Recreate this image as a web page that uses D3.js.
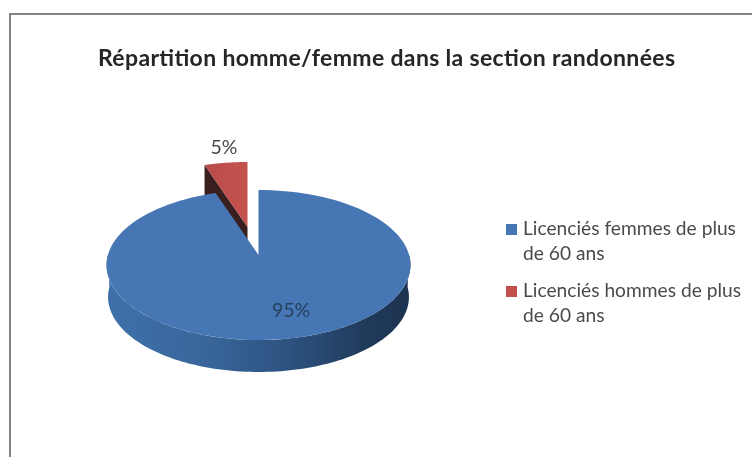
<!DOCTYPE html>
<html>
<head>
<meta charset="utf-8">
<script src="https://cdn.jsdelivr.net/npm/d3@7"></script>
<style>
  html, body { margin: 0; padding: 0; background: #fff; }
  svg { display: block; filter: blur(0.6px); }
  text { font-family: Lato, "Open Sans", sans-serif; }
</style>
</head>
<body>
<div id="graph"></div>
<script>
const title = "Répartition homme/femme dans la section randonnées";
const categories = ["Licenciés femmes de plus de 60 ans", "Licenciés hommes de plus de 60 ans"];
const legendLines = [["Licenciés femmes de plus", "de 60 ans"], ["Licenciés hommes de plus", "de 60 ans"]];
const values = [94.8, 5.2];
const valueLabels = ["95%", "5%"];
const colors = ["#4676b4", "#c0504d"];

const chartW = 752;
const chartH = 457;

const svg = d3.select("#graph").append("svg")
  .attr("width", chartW)
  .attr("height", chartH);

//frame
svg.append("rect")
  .attr("x", 10).attr("y", 14)
  .attr("width", 760).attr("height", 470)
  .attr("fill", "#fff")
  .attr("stroke", "#858585")
  .attr("stroke-width", 2);

//title
svg.append("text")
  .text(title)
  .attr("x", 98).attr("y", 66)
  .attr("font-size", 23)
  .attr("font-weight", 700)
  .attr("textLength", 577)
  .attr("lengthAdjust", "spacing")
  .attr("fill", "#262626");

//pie, tilted with a little perspective
const cx = 258.5;
const cy = 255;
const depth = 32;
const persp = 0.1333;
const xR = 150.6;
const yR = 73.67;

const project = (a, r = 1, shift = [0, 0], low = false) => {
  const u = Math.sin(a) * r;
  const v = Math.cos(a) * r;
  const k = 1 + persp * v;
  const sx = low ? 0.99 : 1;
  return [
    cx + shift[0] + sx * xR * u / k,
    cy + shift[1] + yR * -v / k + (low ? depth : 0)
  ];
};

const line = d3.line();
const arcPts = (a0, a1, shift, low) =>
  d3.range(0, 121).map(i => project(a0 + (a1 - a0) * i / 120, 1, shift, low));

const slices = d3.pie().sort(null)(values);
const blue = slices[0];
const red = slices[1];
const redShift = [-11, -28];

const defs = svg.append("defs");
const wallGrad = defs.append("linearGradient")
  .attr("id", "wall")
  .attr("gradientUnits", "userSpaceOnUse")
  .attr("x1", 107).attr("x2", 411).attr("y1", 0).attr("y2", 0);
[[0, "#3f70aa"], [0.3, "#3a679c"], [0.6, "#2d5280"], [0.85, "#203a5a"], [1, "#1c3350"]]
  .forEach(s => wallGrad.append("stop").attr("offset", s[0]).attr("stop-color", s[1]));

const redGrad = defs.append("linearGradient")
  .attr("id", "redTop")
  .attr("gradientUnits", "userSpaceOnUse")
  .attr("x1", 205).attr("x2", 247).attr("y1", 0).attr("y2", 0);
[[0, "#b84c49"], [1, "#c4524e"]]
  .forEach(s => redGrad.append("stop").attr("offset", s[0]).attr("stop-color", s[1]));

//red slice side, then its top
const redApex = project(0, 0, redShift);
const redRim = project(red.startAngle, 1, redShift);
svg.append("path")
  .attr("d", line([redApex, redRim, [redRim[0], redRim[1] + depth], [redApex[0], redApex[1] + depth]]) + "Z")
  .attr("fill", "#3a1f20");
svg.append("path")
  .attr("d", line([redApex, ...arcPts(red.startAngle, red.endAngle, redShift)]) + "Z")
  .attr("fill", "url(#redTop)");

//blue slice front wall
const wallTop = arcPts(Math.PI / 2, 3 * Math.PI / 2);
const wallLow = arcPts(Math.PI / 2, 3 * Math.PI / 2, [0, 0], true).reverse();
svg.append("path")
  .attr("d", line([...wallTop, ...wallLow]) + "Z")
  .attr("fill", "url(#wall)");

//blue slice top
svg.append("path")
  .attr("d", line([project(0, 0), ...arcPts(blue.startAngle, blue.endAngle)]) + "Z")
  .attr("fill", colors[0]);

//value labels
svg.append("text")
  .text(valueLabels[0])
  .attr("x", 291).attr("y", 317)
  .attr("text-anchor", "middle")
  .attr("font-size", 19.5)
  .attr("fill", "#27405f");
svg.append("text")
  .text(valueLabels[1])
  .attr("x", 224).attr("y", 154)
  .attr("text-anchor", "middle")
  .attr("font-size", 19.5)
  .attr("fill", "#4a4a4a");

//legend
const legendY = [235, 297];
const legend = svg.selectAll(".legend")
  .data(categories)
  .enter()
  .append("g")
  .attr("class", "legend")
  .attr("transform", (d, i) => "translate(0," + legendY[i] + ")");
legend.append("rect")
  .attr("x", 506).attr("y", -11)
  .attr("width", 11).attr("height", 11)
  .attr("fill", (d, i) => colors[i]);
legend.each(function (d, i) {
  d3.select(this).selectAll("text")
    .data(legendLines[i])
    .enter()
    .append("text")
    .text(t => t)
    .attr("x", 523)
    .attr("y", (t, j) => j * 25)
    .attr("font-size", 19.2)
    .attr("fill", "#4a4a4a");
});
</script>
</body>
</html>
